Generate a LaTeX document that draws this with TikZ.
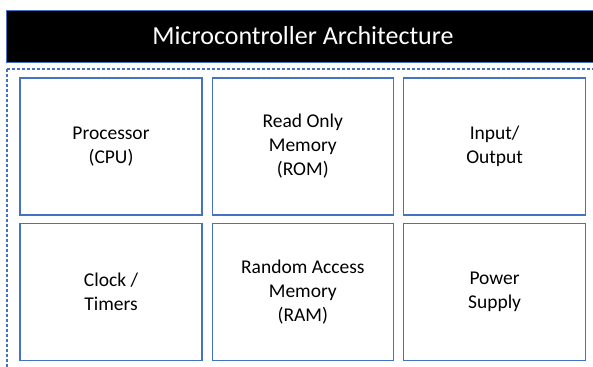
\documentclass[tikz,border=0pt]{standalone}
\usepackage{fontspec}
\setmainfont{Carlito}
\usepackage{xcolor}
\usetikzlibrary{positioning}

\definecolor{officeblue}{HTML}{4472C4}

\begin{document}
\begin{tikzpicture}[
    x=1pt, y=-1pt,
    block/.style={draw=officeblue, line width=1.3pt, fill=white,
        minimum width=182pt, minimum height=137pt, align=center,
        inner sep=0pt, font=\fontsize{19.5}{24}\selectfont},
    title bar/.style={fill=black, draw=officeblue, line width=0.8pt},
    frame line/.style={draw=officeblue, line width=1.1pt, dash pattern=on 3pt off 2pt}
]

\useasboundingbox (0,0) rectangle (593,366);
\clip (0,0) rectangle (593,366);

% --- Header ---
\fill[title bar] (6,10) rectangle (600,62);
\node[text=white, font=\fontsize{26}{30}\selectfont] (title) at (303,36) {Microcontroller Architecture};

% --- Dashed container ---
\draw[frame line] (7,69) rectangle (600,380);

% --- Top row ---
\node[block] (cpu) at (111,146.5) {Processor\\(CPU)};
\node[block, minimum width=181pt, right=9pt of cpu] (rom) {Read Only\\Memory\\(ROM)};
\node[block, right=9pt of rom] (io) {Input/\\Output};

% --- Bottom row ---
\node[block, below=7pt of cpu] (clk) {Clock /\\Timers};
\node[block, minimum width=181pt, below=7pt of rom] (ram) {Random Access\\Memory\\(RAM)};
\node[block, below=7pt of io] (pwr) {Power\\Supply};

\end{tikzpicture}
\end{document}
